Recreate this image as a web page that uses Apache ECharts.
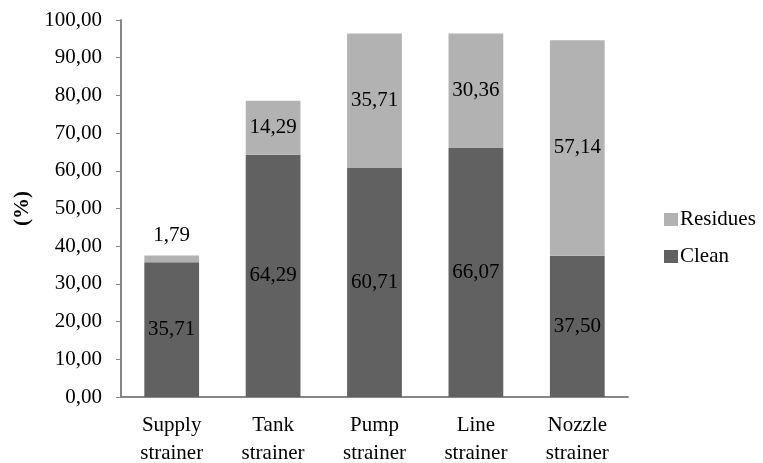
<!DOCTYPE html>
<html><head><meta charset="utf-8">
<script src="https://cdn.jsdelivr.net/npm/echarts@6/dist/echarts.min.js"></script>
<style>html,body{margin:0;padding:0;background:#fff}#c{width:763px;height:463px}</style>
</head><body><div id="c"></div>
<script>
var categories = ['Supply\nstrainer', 'Tank\nstrainer', 'Pump\nstrainer', 'Line\nstrainer', 'Nozzle\nstrainer'];
var clean = [35.71, 64.29, 60.71, 66.07, 37.50];
var residues = [1.79, 14.29, 35.71, 30.36, 57.14];
var yTicks = [0, 10, 20, 30, 40, 50, 60, 70, 80, 90, 100];

var font = 'Liberation Serif';
var fs = 21;
function fmt(v){ return v.toFixed(2).replace('.', ','); }
var chart = echarts.init(document.getElementById('c'));
chart.setOption({
  animation: false,
  textStyle: {fontFamily: font},
  grid: {left: 121, right: 135, top: 20, bottom: 66, containLabel: false, outerBoundsMode: 'none'},
  legend: {
    orient: 'vertical', left: 659, top: 204, itemWidth: 14, itemHeight: 13, itemGap: 16,
    icon: 'rect',
    textStyle: {fontFamily: font, fontSize: fs, color: '#000', padding: [0, 0, 0, -3]},
    data: ['Residues', 'Clean']
  },
  xAxis: {
    type: 'category', data: categories,
    axisLine: {lineStyle: {color: '#868686', width: 2}},
    axisTick: {show: false},
    axisLabel: {fontFamily: font, fontSize: fs, color: '#000', lineHeight: 28, margin: 14}
  },
  yAxis: {
    type: 'value', min: 0, max: 100, interval: 10,
    name: '(%)', nameLocation: 'middle', nameGap: 88, nameRotate: 90,
    nameTextStyle: {fontFamily: font, fontSize: fs, fontWeight: 'bold', color: '#000'},
    axisLine: {show: true, lineStyle: {color: '#868686', width: 2}},
    axisTick: {show: true, length: 5, lineStyle: {color: '#868686', width: 1}},
    splitLine: {show: false},
    axisLabel: {fontFamily: font, fontSize: fs, color: '#000', margin: 19,
      formatter: function(v){ return yTicks.indexOf(v) >= 0 ? fmt(v) : ''; }}
  },
  series: [
    {name: 'Clean', type: 'bar', stack: 's', data: clean, barWidth: '54%',
     itemStyle: {color: '#616161'},
     label: {show: true, position: 'inside', fontFamily: font, fontSize: fs, color: '#000',
       formatter: function(p){ return fmt(p.value); }}},
    {name: 'Residues', type: 'bar', stack: 's', barWidth: '54%',
     data: residues.map(function(v, i){
       return i === 0 ? {value: v, label: {position: 'top', distance: 10}} : v;
     }),
     itemStyle: {color: '#b2b2b2'},
     label: {show: true, position: 'inside', fontFamily: font, fontSize: fs, color: '#000',
       formatter: function(p){ return fmt(p.value); }}}
  ]
});
</script></body></html>
